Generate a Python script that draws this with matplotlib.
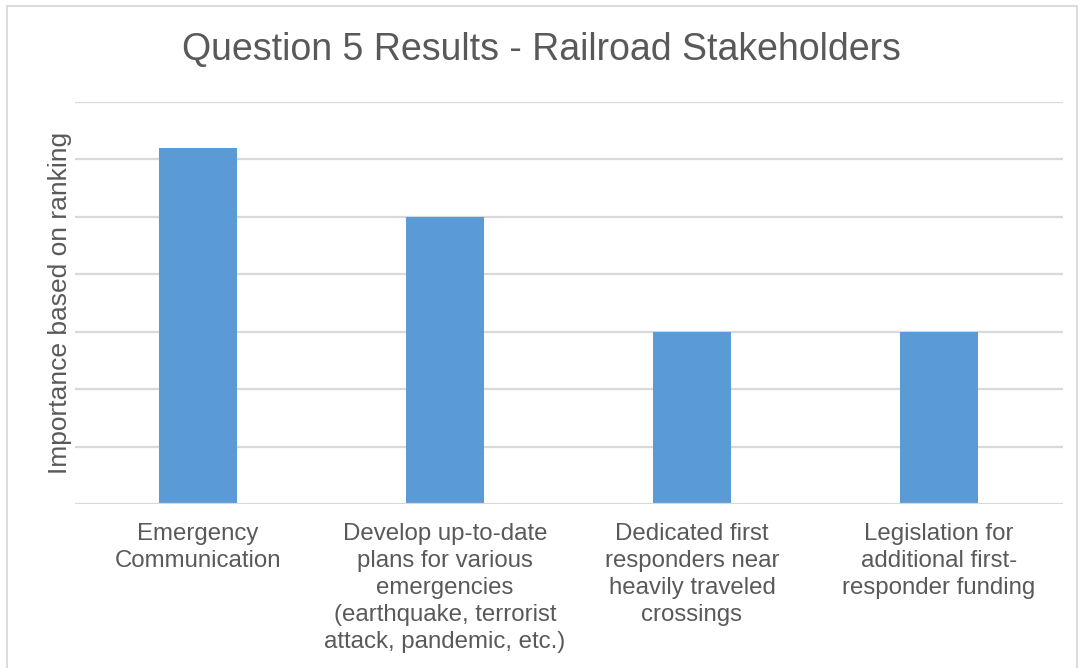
import matplotlib.pyplot as plt
from matplotlib.patches import Rectangle

plt.rcParams['font.family'] = ['Liberation Sans', 'DejaVu Sans']

categories = ['Emergency\nCommunication',
              'Develop up-to-date\nplans for various\nemergencies\n(earthquake, terrorist\nattack, pandemic, etc.)',
              'Dedicated first\nresponders near\nheavily traveled\ncrossings',
              'Legislation for\nadditional first-\nresponder funding']
scores = [6.2, 5, 3, 3]
grid_levels = [1, 2, 3, 4, 5, 6, 7]

text_color = '#595959'
bar_color = '#5B9BD5'
grid_color = '#D9D9D9'

fig = plt.figure(figsize=(10.83, 6.68), dpi=100)
ax = fig.add_axes([74.5 / 1083, 1 - 504 / 668, 988 / 1083, 402 / 668])

# chart frame
fig.patches.append(Rectangle((7 / 1083, -0.01), 1070 / 1083, 1 - 6 / 668 + 0.01,
                             transform=fig.transFigure, fill=False,
                             edgecolor=grid_color, linewidth=1.3))

x = range(len(categories))
ax.bar(x, scores, width=0.316, color=bar_color, zorder=3)

for g in grid_levels:
    ax.axhline(g, color=grid_color, linewidth=1.6, zorder=1)
ax.axhline(0, color=grid_color, linewidth=1.6, zorder=4)

ax.set_xlim(-0.5, len(categories) - 0.5)
ax.set_ylim(0, 7)
ax.set_yticks([])
ax.set_xticks(list(x))
ax.set_xticklabels(categories, fontsize=17.3, color=text_color, linespacing=1.29)
ax.tick_params(axis='x', length=0, pad=14)
for s in ax.spines.values():
    s.set_visible(False)

ax.set_ylabel('Importance based on ranking', fontsize=19, color=text_color, labelpad=2)
fig.text(0.5, 1 - 50 / 668, 'Question 5 Results - Railroad Stakeholders',
         ha='center', va='center', fontsize=27, color=text_color)

fig.savefig('out.png', dpi=100)
